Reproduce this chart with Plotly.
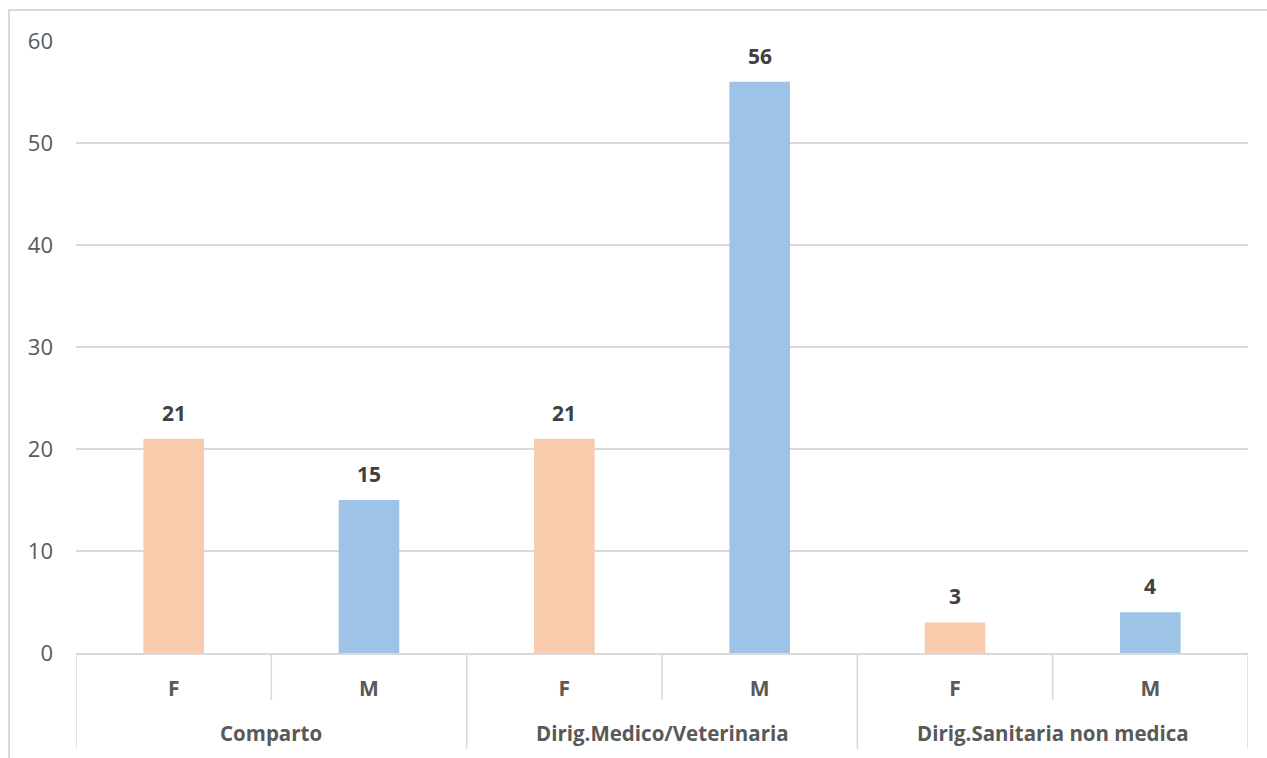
import plotly.graph_objects as go

# Categories: staff group (outer level) and sex (inner level)
groups = ["Comparto", "Dirig.Medico/Veterinaria", "Dirig.Sanitaria non medica"]
sexes = ["F", "M"]
values_f = [21, 21, 3]
values_m = [15, 56, 4]
y_ticks = [0, 10, 20, 30, 40, 50, 60]

FONT = "Open Sans"
COL_F = "#F8CBAD"
COL_M = "#9DC3E6"
GRID = "#D9D9D9"
TXT = "#595959"
LBL = "#404040"

# slot index for each bar: group i -> F at 2i, M at 2i+1
x_f = [2 * i for i in range(len(groups))]
x_m = [2 * i + 1 for i in range(len(groups))]

W, H = 1267, 758
L, R, T, B = 76, 19, 41, 105
plot_w = W - L - R
plot_h = H - T - B

fig = go.Figure()
fig.add_trace(go.Bar(x=x_f, y=values_f, name="F", marker=dict(color=COL_F, line=dict(width=0)), width=0.31))
fig.add_trace(go.Bar(x=x_m, y=values_m, name="M", marker=dict(color=COL_M, line=dict(width=0)), width=0.31))

annotations = []
# value labels above each bar
for xs, vs in ((x_f, values_f), (x_m, values_m)):
    for x, v in zip(xs, vs):
        annotations.append(dict(
            x=x, y=v, xref="x", yref="y", text=f"<b>{v}</b>", showarrow=False,
            yanchor="bottom", yshift=10, font=dict(family=FONT, size=21, color=LBL)))

# outer category labels
for i, g in enumerate(groups):
    annotations.append(dict(
        x=2 * i + 0.5, y=(653 - 733) / plot_h, xref="x", yref="paper", text=f"<b>{g}</b>",
        showarrow=False, yanchor="middle", font=dict(family=FONT, size=20.5, color=TXT)))

shapes = []
# group dividers (full depth of the two-level axis)
for xd in [-0.5, 1.5, 3.5, 5.5]:
    shapes.append(dict(type="line", xref="x", yref="paper", x0=xd, x1=xd,
                       y0=0, y1=(653 - 749) / plot_h, line=dict(color=GRID, width=1.5)))
# dividers between F and M within a group
for xd in [0.5, 2.5, 4.5]:
    shapes.append(dict(type="line", xref="x", yref="paper", x0=xd, x1=xd,
                       y0=0, y1=(653 - 700) / plot_h, line=dict(color=GRID, width=1.5)))
# chart frame
shapes.append(dict(type="rect", xref="paper", yref="paper",
                   x0=(9 - L) / plot_w, x1=(W + 10 - L) / plot_w,
                   y0=-(B + 10) / plot_h, y1=(H - B - 10) / plot_h,
                   line=dict(color="#D9D9D9", width=2), fillcolor="rgba(0,0,0,0)", layer="below"))

fig.update_layout(
    width=W, height=H,
    margin=dict(l=L, r=R, t=T, b=B),
    paper_bgcolor="white", plot_bgcolor="white",
    barmode="overlay", showlegend=False,
    font=dict(family=FONT, color=TXT),
    xaxis=dict(range=[-0.5, 5.5], tickmode="array",
               tickvals=x_f + x_m, ticktext=[f"<b>{sexes[0]}</b>"] * 3 + [f"<b>{sexes[1]}</b>"] * 3,
               tickfont=dict(family=FONT, size=21, color=TXT),
               showgrid=False, zeroline=False, showline=True, linecolor=GRID, linewidth=1.5,
               ticks="", ticklabelstandoff=16),
    yaxis=dict(range=[0, 60], tickmode="array", tickvals=y_ticks,
               tickfont=dict(family=FONT, size=22, color=TXT),
               showgrid=True, gridcolor=GRID, gridwidth=1.5, zeroline=False,
               showline=False, ticks="", ticklabelstandoff=22),
    annotations=annotations, shapes=shapes,
)

fig.write_html("out.html")
